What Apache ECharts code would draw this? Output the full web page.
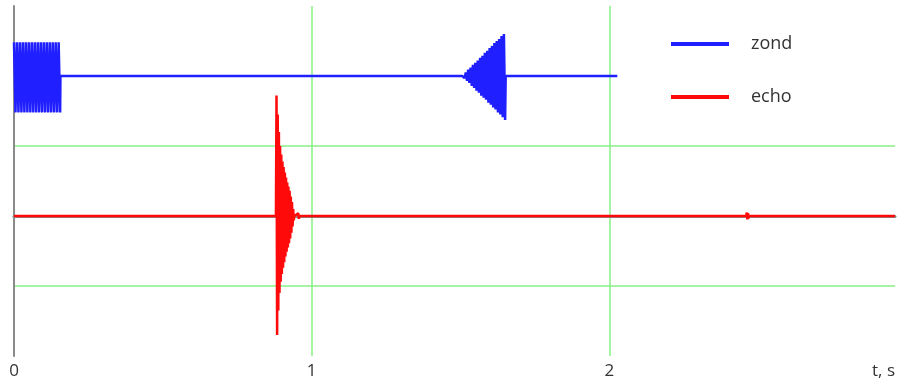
<!DOCTYPE html>
<html>
<head>
<meta charset="utf-8">
<script src="https://cdn.jsdelivr.net/npm/echarts@6/dist/echarts.min.js"></script>
<style>html,body{margin:0;padding:0;background:#fff}#c{width:907px;height:385px}</style>
</head>
<body>
<div id="c"></div>
<script>
// x-axis tick values and the label for the axis end
const xTicks = [0, 1, 2];
const xEnd = 2.96;
const xEndLabel = 't, s';
const seriesNames = ['zond', 'echo'];

// zond: [t, value] — burst at start, flat line, growing chirp, flat line
const zondBurst = [
  [0.000,2.48],[0.005,1.48],[0.010,2.48],[0.015,1.48],[0.020,2.48],[0.025,1.48],
  [0.030,2.48],[0.035,1.48],[0.040,2.48],[0.045,1.48],[0.050,2.48],[0.055,1.48],
  [0.060,2.48],[0.065,1.48],[0.070,2.48],[0.075,1.48],[0.080,2.48],[0.085,1.48],
  [0.090,2.48],[0.095,1.48],[0.100,2.48],[0.105,1.48],[0.110,2.48],[0.115,1.48],
  [0.120,2.48],[0.125,1.48],[0.130,2.48],[0.135,1.48],[0.140,2.48],[0.145,1.48],
  [0.150,2.48],[0.155,1.48],[0.156,2.00]
];
const zondChirp = [
  [1.506,2.00],[1.510,2.02],[1.514,1.97],[1.518,2.05],[1.522,1.93],[1.526,2.09],
  [1.530,1.90],[1.534,2.12],[1.538,1.86],[1.542,2.16],[1.546,1.83],[1.550,2.19],
  [1.554,1.79],[1.558,2.22],[1.562,1.76],[1.566,2.26],[1.570,1.72],[1.574,2.29],
  [1.578,1.69],[1.582,2.33],[1.586,1.66],[1.590,2.36],[1.594,1.62],[1.598,2.40],
  [1.602,1.59],[1.606,2.43],[1.610,1.55],[1.614,2.47],[1.618,1.52],[1.622,2.50],
  [1.626,1.48],[1.630,2.53],[1.634,1.45],[1.638,2.57],[1.642,1.41],[1.646,2.60],
  [1.650,1.37],[1.652,2.00]
];
const zondTail = [[2.027,2.00]];

// echo: [t, value] — flat line, decaying spike, small blips
const echoStart = [[0.000,0.00]];
const echoSpike = [
  [0.880,0.00],[0.882,1.72],[0.884,-1.70],[0.886,1.45],[0.888,-1.35],[0.890,1.20],
  [0.892,-1.10],[0.894,1.00],[0.896,-0.94],[0.898,0.88],[0.900,-0.83],[0.902,0.78],
  [0.904,-0.74],[0.906,0.70],[0.908,-0.66],[0.910,0.62],[0.912,-0.58],[0.914,0.55],
  [0.916,-0.51],[0.918,0.48],[0.920,-0.45],[0.922,0.42],[0.924,-0.39],[0.926,0.36],
  [0.928,-0.32],[0.930,0.28],[0.932,-0.24],[0.934,0.20],[0.936,-0.15],[0.938,0.10],
  [0.940,-0.06],[0.942,0.00]
];
const echoBlip1 = [[0.955,0.04],[0.957,-0.04],[0.959,0.00]];
const echoBlip2 = [[2.460,0.00],[2.462,0.05],[2.464,-0.05],[2.466,0.04],[2.468,-0.03],[2.470,0.00]];
const echoEnd = [[2.960,0.00]];

const zondData = [].concat(zondBurst, zondChirp, zondTail);
const echoData = [].concat(echoStart, echoSpike, echoBlip1, echoBlip2, echoEnd);

const chart = echarts.init(document.getElementById('c'), null, {renderer: 'canvas'});
const green = '#86f086';
const none = 'rgba(0,0,0,0)';
chart.setOption({
  animation: false,
  backgroundColor: '#ffffff',
  grid: {left: 14, right: 12, top: 6, bottom: 29, containLabel: false},
  legend: {
    orient: 'vertical', left: 671, top: 35, itemGap: 35, padding: 0,
    icon: 'rect', itemWidth: 58, itemHeight: 4,
    data: seriesNames,
    textStyle: {fontFamily: 'Open Sans', fontSize: 18, color: '#333', padding: [0, 0, 0, 17]}
  },
  xAxis: {
    type: 'value', min: 0, max: xEnd, interval: 1,
    axisLine: {show: true, lineStyle: {color: '#8a8a8a', width: 3}},
    axisTick: {show: false},
    axisLabel: {
      show: true, margin: 7, fontFamily: 'Open Sans', fontSize: 17, color: '#333',
      alignMaxLabel: 'right',
      formatter: v => (v === xEnd ? xEndLabel : (xTicks.indexOf(v) >= 0 ? String(v) : ''))
    },
    splitLine: {show: true, lineStyle: {color: [none, green, green, none], width: 1.5}}
  },
  yAxis: {
    type: 'value', min: -2, max: 3, interval: 1,
    axisLine: {show: true, onZero: false, lineStyle: {color: '#8a8a8a', width: 2}},
    axisTick: {show: false},
    axisLabel: {show: false},
    splitLine: {show: true, lineStyle: {color: [none, green, green, green, none, none], width: 1.5}}
  },
  series: [
    {name: seriesNames[0], type: 'line', data: zondData, symbol: 'none', color: '#1f1fff',
     lineStyle: {width: 2.5, color: '#1f1fff'}, z: 3},
    {name: seriesNames[1], type: 'line', data: echoData, symbol: 'none', color: '#ff0a0a',
     lineStyle: {width: 2.5, color: '#ff0a0a'}, z: 4}
  ]
});
</script>
</body>
</html>
